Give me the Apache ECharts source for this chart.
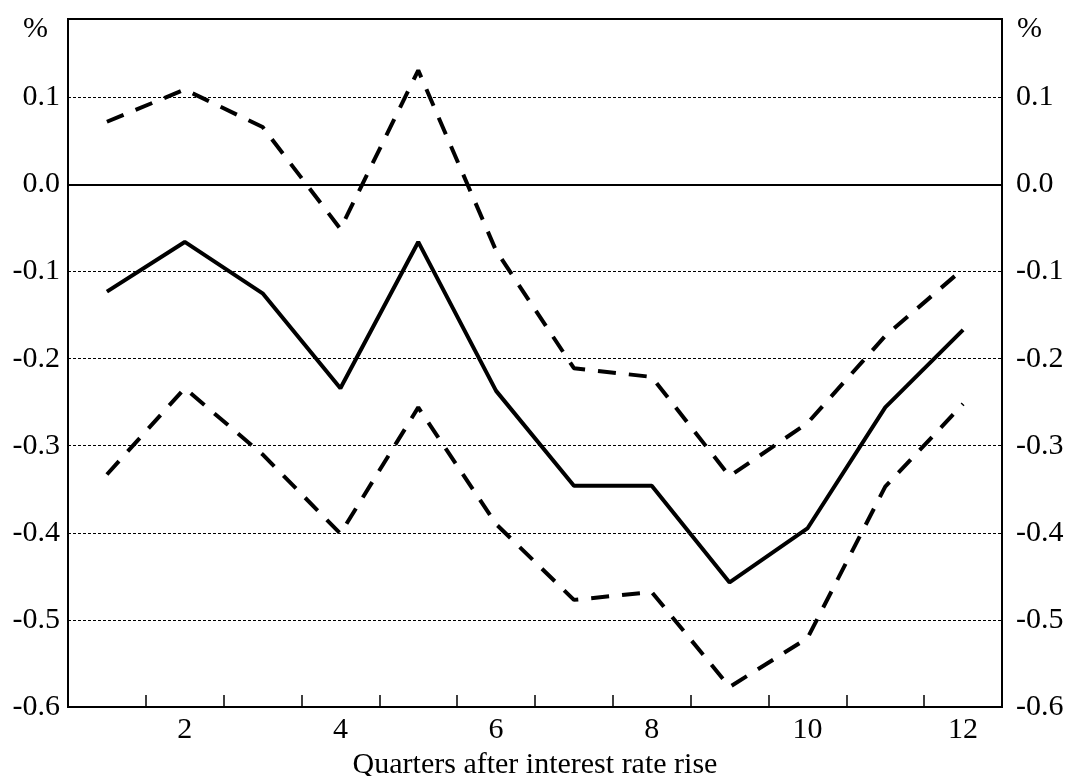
<!DOCTYPE html>
<html>
<head>
<meta charset="utf-8">
<script src="https://cdn.jsdelivr.net/npm/echarts@6/dist/echarts.min.js"></script>
<style>html,body{margin:0;padding:0;background:#fff}#c{width:1068px;height:776px}</style>
</head>
<body>
<div id="c"></div>
<script>
const categories = ['1','2','3','4','5','6','7','8','9','10','11','12'];
const central = [-0.123, -0.066, -0.125, -0.234, -0.066, -0.237, -0.346, -0.346, -0.457, -0.395, -0.256, -0.167];
const upperBand = [0.072, 0.109, 0.066, -0.051, 0.131, -0.076, -0.211, -0.221, -0.335, -0.274, -0.174, -0.097];
const lowerBand = [-0.333, -0.234, -0.310, -0.401, -0.256, -0.390, -0.477, -0.468, -0.577, -0.521, -0.347, -0.252];
const yTickValues = [-0.6, -0.5, -0.4, -0.3, -0.2, -0.1, 0.0, 0.1];
const xLabelShown = ['2','4','6','8','10','12'];

const FONT = 'Liberation Serif';
const chart = echarts.init(document.getElementById('c'), null, {renderer: 'canvas'});

function yFmt(v) {
  for (const t of yTickValues) { if (Math.abs(v - t) < 1e-6) return t.toFixed(1); }
  return '';
}
function yAxisCfg(pos) {
  return {
    type: 'value', position: pos, min: -0.6, max: 0.19, interval: 0.1,
    name: '%', nameLocation: 'end', nameGap: -10,
    nameTextStyle: {fontFamily: FONT, fontSize: 30, color: '#000', verticalAlign: 'middle',
      align: pos === 'left' ? 'right' : 'left',
      padding: pos === 'left' ? [0, 20, 0, 0] : [0, 0, 0, 15]},
    axisLine: {show: true, onZero: false, lineStyle: {color: '#000', width: 2}},
    axisTick: {show: false},
    axisLabel: {formatter: yFmt, fontFamily: FONT, fontSize: 30, color: '#000', margin: pos === 'left' ? 8 : 14},
    splitLine: {show: pos === 'left', lineStyle: {color: '#000', width: 1, type: [3, 2]}}
  };
}

const lineBase = {type: 'line', symbol: 'none', smooth: false, silent: true, animation: false};

chart.setOption({
  animation: false,
  grid: {left: 68, right: 66, top: 19, bottom: 69, outerBoundsMode: 'none', containLabel: false,
    show: true, borderColor: '#000', borderWidth: 2, backgroundColor: 'transparent'},
  xAxis: {
    type: 'category', data: categories, boundaryGap: true,
    name: 'Quarters after interest rate rise', nameLocation: 'middle', nameGap: 38,
    nameTextStyle: {fontFamily: FONT, fontSize: 30, color: '#000'},
    axisLine: {show: true, onZero: false, lineStyle: {color: '#000', width: 2}},
    axisTick: {show: true, inside: true, length: 12, interval: 0, lineStyle: {color: '#000', width: 1.5}},
    axisLabel: {
      interval: function (i, v) { return xLabelShown.indexOf(v) >= 0; },
      fontFamily: FONT, fontSize: 30, color: '#000', margin: 8
    },
    splitLine: {show: false}
  },
  yAxis: [yAxisCfg('left'), yAxisCfg('right')],
  series: [
    Object.assign({}, lineBase, {
      name: 'central', data: central, yAxisIndex: 0,
      lineStyle: {color: '#000', width: 4, type: 'solid'},
      markLine: {silent: true, symbol: 'none', label: {show: false},
        lineStyle: {color: '#000', width: 2, type: 'solid'}, data: [{yAxis: 0}]}
    }),
    Object.assign({}, lineBase, {
      name: 'upper', data: upperBand, yAxisIndex: 0,
      lineStyle: {color: '#000', width: 4, type: [18, 13]}
    }),
    Object.assign({}, lineBase, {
      name: 'lower', data: lowerBand, yAxisIndex: 0,
      lineStyle: {color: '#000', width: 4, type: [18, 13]}
    })
  ]
});
</script>
</body>
</html>
